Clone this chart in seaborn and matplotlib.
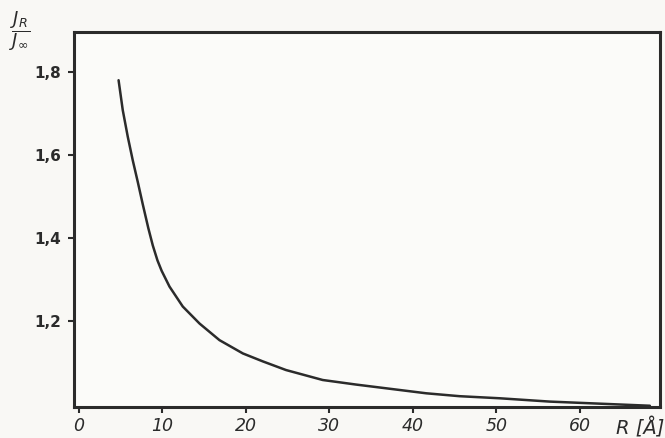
import matplotlib
matplotlib.use("Agg")
import matplotlib.pyplot as plt
import seaborn as sns
import pandas as pd

# values
r_vals = [4.74, 5.24, 5.84, 6.44, 7.04, 7.64, 8.3, 8.84, 9.4, 9.9, 10.84, 12.43,
          14.44, 16.83, 19.63, 22.0, 24.8, 29.2, 33.2, 37.6, 41.6, 45.6, 50.4,
          56.4, 62.4, 68.4]
j_ratio = [1.780, 1.708, 1.644, 1.587, 1.535, 1.481, 1.424, 1.382, 1.346, 1.321,
           1.283, 1.235, 1.194, 1.154, 1.122, 1.103, 1.082, 1.058, 1.047, 1.036,
           1.026, 1.019, 1.014, 1.006, 1.001, 0.996]
x_ticks = [0, 10, 20, 30, 40, 50, 60]
y_ticks = [1.2, 1.4, 1.6, 1.8]
y_tick_labels = ['1,2', '1,4', '1,6', '1,8']

df = pd.DataFrame({'R': r_vals, 'J': j_ratio})

sns.set_style('ticks')
plt.rcParams['font.family'] = ['DejaVu Sans']

ink = '#2b2b2b'
fig = plt.figure(figsize=(6.65, 4.38), dpi=100, facecolor='#f9f8f5')
ax = fig.add_axes([0.1113, 0.0708, 0.881, 0.856])
ax.set_facecolor('#fbfbf9')

sns.lineplot(data=df, x='R', y='J', ax=ax, color=ink, linewidth=1.8)

ax.set_xlim(-0.6, 69.6)
ax.set_ylim(0.993, 1.896)
ax.set_xticks(x_ticks)
ax.set_xticklabels([str(t) for t in x_ticks], fontsize=12.5, style='italic', color=ink)
ax.set_yticks(y_ticks)
ax.set_yticklabels(y_tick_labels, fontsize=11, color=ink, fontweight='bold')
ax.tick_params(axis='both', direction='out', length=4, width=1.5, color=ink)
ax.tick_params(axis='x', pad=3)
ax.tick_params(axis='y', pad=5)
for s in ax.spines.values():
    s.set_color(ink)
    s.set_linewidth(2.2)

ax.set_xlabel('')
ax.set_ylabel('')
fig.text(0.962, 0.023, 'R [Å]', fontsize=14, style='italic', color=ink, ha='center', va='center')
fig.text(0.03, 0.928, r'$\dfrac{J_R}{J_\infty}$', fontsize=13, color=ink, ha='center', va='center')

fig.savefig('out.png', dpi=100, facecolor=fig.get_facecolor())
